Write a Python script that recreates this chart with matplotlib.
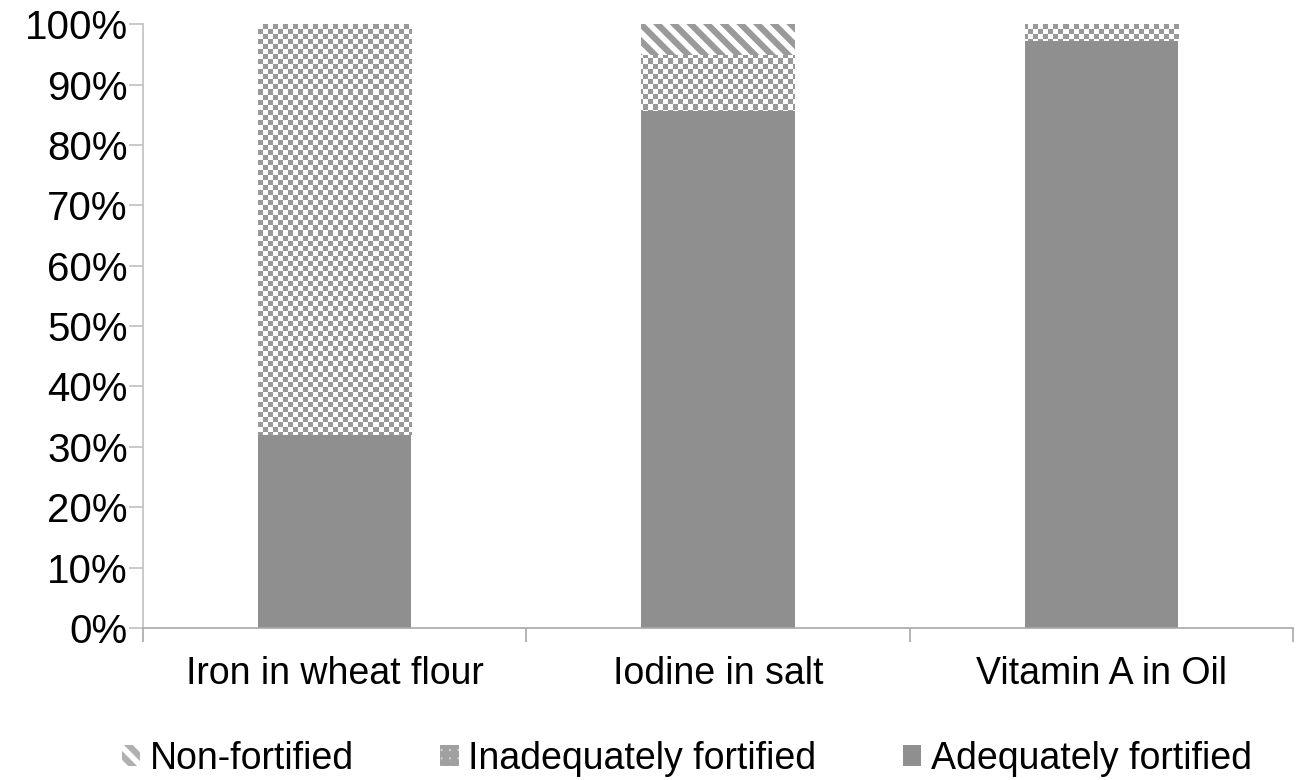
import numpy as np
import matplotlib
matplotlib.use("Agg")
import matplotlib.pyplot as plt
from matplotlib.patches import Patch

categories = ["Iron in wheat flour", "Iodine in salt", "Vitamin A in Oil"]
adequate = [32.0, 85.6, 97.2]
inadequate = [68.0, 9.3, 2.8]
non_fortified = [0.0, 5.1, 0.0]

plt.rcParams["font.family"] = ["Liberation Sans", "DejaVu Sans"]
plt.rcParams["hatch.linewidth"] = 4.5
GRAY = "#8f8f8f"
FS = 27

fig = plt.figure(figsize=(12.98, 7.8), dpi=100)
ax = fig.add_axes([0.1102, 0.1949, 0.8858, 0.7741])
x = np.arange(len(categories))
w = 0.40

b1 = ax.bar(x, adequate, w, color=GRAY, edgecolor="none", zorder=2)
bot2 = np.array(adequate)
b2 = ax.bar(x, inadequate, w, bottom=bot2, color="none", edgecolor="none", zorder=2)
bot3 = bot2 + np.array(inadequate)
b3 = ax.bar(x, non_fortified, w, bottom=bot3, color="white", edgecolor="#9a9a9a", hatch="\\\\", lw=0, zorder=2)

# checkerboard fill for the inadequate segment
nx, ny = 1150 // 5, 604 // 5
chk = (np.add.outer(np.arange(ny), np.arange(nx)) % 2).astype(float)
for p in b2:
    im = ax.imshow(chk, extent=(-0.5, 2.5, 0, 100), aspect="auto", cmap="gray",
                   vmin=-1.5, vmax=1.0, interpolation="nearest", zorder=2)
    im.set_clip_path(p)
ax.set_xlim(-0.5, 2.5); ax.set_ylim(0, 100)

ax.set_xticks(x); ax.set_xticklabels(categories, fontsize=FS)
ax.set_xticks([-0.5, 0.5, 1.5, 2.5], minor=True)
ax.tick_params(axis="x", which="major", length=0, pad=20)
ax.tick_params(axis="x", which="minor", length=10, color="#a8a8a8", width=1.2)
ax.set_yticks(np.arange(0, 101, 10))
ax.set_yticklabels([f"{v}%" for v in range(0, 101, 10)], fontsize=29)
ax.tick_params(axis="y", length=10, color="#c0c0c0", width=1.2, pad=1)
for s in ("top", "right"):
    ax.spines[s].set_visible(False)
ax.spines["left"].set_color("#c0c0c0"); ax.spines["bottom"].set_color("#a8a8a8")
ax.spines["left"].set_linewidth(1.2); ax.spines["bottom"].set_linewidth(1.2)

handles = [Patch(facecolor="white", edgecolor="#b0b0b0", hatch="\\\\", lw=0, label="Non-fortified"),
           Patch(facecolor="#d0d0d0", edgecolor="#a0a0a0", hatch="++", lw=0, label="Inadequately fortified"),
           Patch(facecolor=GRAY, edgecolor="none", label="Adequately fortified")]
fig.legend(handles=handles, loc="center", bbox_to_anchor=(0.529, 0.027), ncol=3, frameon=False,
           fontsize=FS, handlelength=0.5, handleheight=0.5, handletextpad=0.25, columnspacing=2.3)
fig.savefig("out.png", dpi=100)
